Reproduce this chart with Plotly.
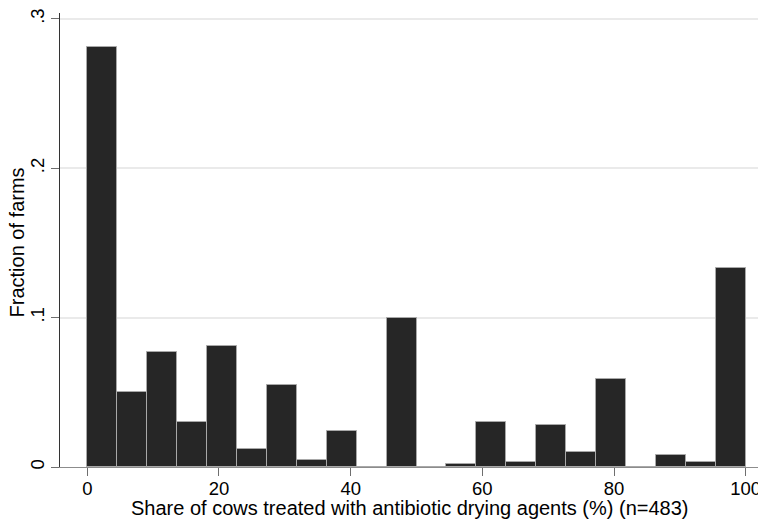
import plotly.graph_objects as go

# Histogram: 22 equal-width bins over 0..100 (Stata default for n=483)
n_bins = 22
bin_width = 100 / n_bins
bin_index = list(range(n_bins))
fractions = [0.281, 0.050, 0.077, 0.030, 0.081, 0.012, 0.055, 0.005, 0.024, 0.0,
             0.0995, 0.0, 0.002, 0.030, 0.0035, 0.028, 0.010, 0.059, 0.0, 0.008,
             0.0035, 0.133]
x_ticks = [0, 20, 40, 60, 80, 100]
x_ticklabels = ["0", "20", "40", "60", "80", "100"]
y_ticks = [0, 0.1, 0.2, 0.3]
y_ticklabels = ["0", ".1", ".2", ".3"]
x_title = "Share of cows treated with antibiotic drying agents (%) (n=483)"
y_title = "Fraction of farms"

centers = [(i + 0.5) * bin_width for i in bin_index]

FONT = "Liberation Sans, Arial, sans-serif"

fig = go.Figure()
fig.add_trace(go.Bar(
    x=centers, y=fractions, width=bin_width,
    marker=dict(color="#262626", line=dict(color="#a8a8a8", width=1)),
    hoverinfo="skip",
))

fig.update_layout(
    width=758, height=513,
    margin=dict(l=52, r=7, t=0, b=54),
    paper_bgcolor="white", plot_bgcolor="white",
    showlegend=False,
    font=dict(family=FONT, color="#000000", size=18.5),
    bargap=0,
)
fig.update_xaxes(
    range=[-4.146, 102.02],
    tickvals=x_ticks, ticktext=x_ticklabels,
    ticks="outside", ticklen=8, tickcolor="#6e6e6e", tickwidth=1,
    showline=True, linecolor="#8c8c8c", linewidth=1.2,
    showgrid=False, zeroline=False,
    ticklabelstandoff=-3,
    ticklabeloverflow="allow",
    tickfont=dict(size=18.5, family=FONT),
)
fig.update_yaxes(
    range=[0, 0.30397],
    tickvals=y_ticks, ticktext=y_ticklabels,
    ticks="outside", ticklen=8, tickcolor="#6e6e6e", tickwidth=1,
    tickangle=-90,
    showline=True, linecolor="#333333", linewidth=1.2,
    showgrid=True, gridcolor="#eaeaea", gridwidth=1.5,
    zeroline=False,
    ticklabeloverflow="allow",
    tickfont=dict(size=18.5, family=FONT),
)

fig.add_annotation(
    text=x_title, xref="paper", yref="paper", x=0.5, y=-0.0893,
    xanchor="center", yanchor="middle", showarrow=False,
    font=dict(size=20, family=FONT, color="#000000"),
)
fig.add_annotation(
    text=y_title, xref="paper", yref="paper", x=-0.0615, y=0.4946,
    xanchor="center", yanchor="middle", textangle=-90, showarrow=False,
    font=dict(size=20, family=FONT, color="#000000"),
)

fig.write_html("out.html")
